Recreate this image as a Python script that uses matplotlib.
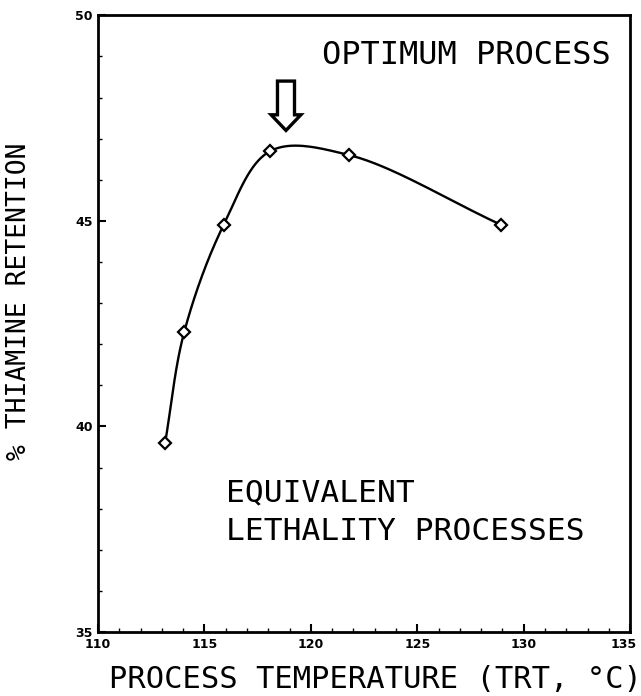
import numpy as np
from matplotlib import pyplot as plt
from matplotlib.patches import FancyArrow
from matplotlib.transforms import ScaledTranslation

# datos
temperaturas = [113.15, 114.05, 115.9, 118.1, 121.8, 128.95]  # TRT, grados C
retencion = [39.6, 42.3, 44.9, 46.7, 46.6, 44.9]  # % tiamina
xticks = [110, 115, 120, 125, 130, 135]
yticks = [35, 40, 45, 50]


# curva Catmull-Rom centripeta, solo para trazar la linea suave por los puntos
def curva(x, y, n=40):
	# escala aproximada a pixeles para que la parametrizacion no se deforme
	P = np.column_stack([np.asarray(x) * 21.3, np.asarray(y) * 41.1])
	P = np.vstack([2 * P[0] - P[1], P, 2 * P[-1] - P[-2]])
	pts = []
	for i in range(1, len(P) - 2):
		p0, p1, p2, p3 = P[i - 1], P[i], P[i + 1], P[i + 2]
		t0 = 0
		t1 = t0 + np.linalg.norm(p1 - p0) ** 0.5
		t2 = t1 + np.linalg.norm(p2 - p1) ** 0.5
		t3 = t2 + np.linalg.norm(p3 - p2) ** 0.5
		t = np.linspace(t1, t2, n)[:, None]
		a1 = (t1 - t) / (t1 - t0) * p0 + (t - t0) / (t1 - t0) * p1
		a2 = (t2 - t) / (t2 - t1) * p1 + (t - t1) / (t2 - t1) * p2
		a3 = (t3 - t) / (t3 - t2) * p2 + (t - t2) / (t3 - t2) * p3
		b1 = (t2 - t) / (t2 - t0) * a1 + (t - t0) / (t2 - t0) * a2
		b2 = (t3 - t) / (t3 - t1) * a2 + (t - t1) / (t3 - t1) * a3
		pts.append((t2 - t) / (t2 - t1) * b1 + (t - t1) / (t2 - t1) * b2)
	pts = np.vstack(pts)
	return pts[:, 0] / 21.3, pts[:, 1] / 41.1


plt.rcParams['font.family'] = ['DejaVu Sans Mono', 'DejaVu Sans']

fig = plt.figure(figsize=(6.41, 6.96), dpi=100)
ax = fig.add_axes([0.153, 0.092, 0.830, 0.886])

xs, ys = curva(temperaturas, retencion)
ax.plot(xs, ys, color='black', lw=1.7)
ax.plot(temperaturas, retencion, linestyle='none', marker='D', markersize=6,
	markerfacecolor='white', markeredgecolor='black', markeredgewidth=1.6)

# flecha hueca del proceso optimo
ax.add_patch(FancyArrow(118.83, 48.4, 0, -1.2, width=0.8, head_width=1.4,
	head_length=0.38, length_includes_head=True, fill=False, ec='black', lw=2.4))

ax.text(127.3, 49.03, "OPTIMUM PROCESS", ha='center', va='center', fontsize=23)
ax.text(116.0, 37.92, "EQUIVALENT\nLETHALITY PROCESSES", ha='left', va='center',
	fontsize=22.5, linespacing=1.4)

ax.set_xlim(110, 135)
ax.set_ylim(35, 50)
ax.set_xticks(xticks)
ax.set_yticks(yticks)
ax.set_xticks(np.arange(110, 136, 1), minor=True)
ax.set_yticks(np.arange(35, 50.5, 1), minor=True)
ax.tick_params(which='major', direction='in', length=6, width=1.5, labelsize=9, pad=4)
ax.tick_params(which='minor', direction='in', length=3, width=1)
for lab in ax.get_xticklabels() + ax.get_yticklabels():
	lab.set_fontweight('bold')
	lab.set_family('DejaVu Sans')
# la etiqueta 135 queda pegada al borde derecho
ultima = ax.get_xticklabels()[-1]
ultima.set_transform(ultima.get_transform() + ScaledTranslation(-6 / 100, 0, fig.dpi_scale_trans))
for s in ax.spines.values():
	s.set_linewidth(2)

fig.text(0.585, 0.023, "PROCESS TEMPERATURE (TRT, °C)", ha='center', va='center', fontsize=22)
fig.text(0.03, 0.567, "% THIAMINE RETENTION", ha='center', va='center', fontsize=19, rotation=90)

fig.savefig("out.png", dpi=100)
